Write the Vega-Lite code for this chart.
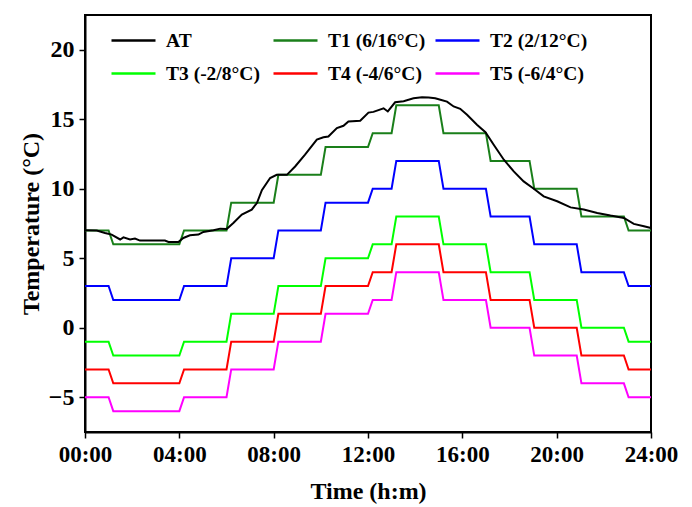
{
  "$schema": "https://vega.github.io/schema/vega-lite/v6.json",
  "width": 566,
  "height": 417,
  "autosize": "none",
  "padding": {"left": 85, "top": 15, "right": 41, "bottom": 75},
  "background": "white",
  "config": {
    "view": {"stroke": "black", "strokeWidth": 2},
    "font": "Liberation Serif",
    "axis": {
      "grid": false,
      "domainColor": "black",
      "domainWidth": 2,
      "tickColor": "black",
      "tickWidth": 1.5,
      "tickSize": 6,
      "labelFont": "Liberation Serif",
      "labelFontWeight": "bold",
      "labelColor": "black",
      "titleFont": "Liberation Serif",
      "titleFontWeight": "bold",
      "titleColor": "black"
    }
  },
  "datasets": {
    "steps": [
      {"t": 0, "T1": 7, "T2": 3, "T3": -1, "T4": -3, "T5": -5},
      {"t": 1.0, "T1": 7, "T2": 3, "T3": -1, "T4": -3, "T5": -5},
      {"t": 1.2, "T1": 6, "T2": 2, "T3": -2, "T4": -4, "T5": -6},
      {"t": 4.0, "T1": 6, "T2": 2, "T3": -2, "T4": -4, "T5": -6},
      {"t": 4.2, "T1": 7, "T2": 3, "T3": -1, "T4": -3, "T5": -5},
      {"t": 6.0, "T1": 7, "T2": 3, "T3": -1, "T4": -3, "T5": -5},
      {"t": 6.2, "T1": 9, "T2": 5, "T3": 1, "T4": -1, "T5": -3},
      {"t": 8.0, "T1": 9, "T2": 5, "T3": 1, "T4": -1, "T5": -3},
      {"t": 8.2, "T1": 11, "T2": 7, "T3": 3, "T4": 1, "T5": -1},
      {"t": 10.0, "T1": 11, "T2": 7, "T3": 3, "T4": 1, "T5": -1},
      {"t": 10.2, "T1": 13, "T2": 9, "T3": 5, "T4": 3, "T5": 1},
      {"t": 12.0, "T1": 13, "T2": 9, "T3": 5, "T4": 3, "T5": 1},
      {"t": 12.2, "T1": 14, "T2": 10, "T3": 6, "T4": 4, "T5": 2},
      {"t": 13.0, "T1": 14, "T2": 10, "T3": 6, "T4": 4, "T5": 2},
      {"t": 13.2, "T1": 16, "T2": 12, "T3": 8, "T4": 6, "T5": 4},
      {"t": 15.0, "T1": 16, "T2": 12, "T3": 8, "T4": 6, "T5": 4},
      {"t": 15.2, "T1": 14, "T2": 10, "T3": 6, "T4": 4, "T5": 2},
      {"t": 17.0, "T1": 14, "T2": 10, "T3": 6, "T4": 4, "T5": 2},
      {"t": 17.2, "T1": 12, "T2": 8, "T3": 4, "T4": 2, "T5": 0},
      {"t": 18.85, "T1": 12, "T2": 8, "T3": 4, "T4": 2, "T5": 0},
      {"t": 19.05, "T1": 10, "T2": 6, "T3": 2, "T4": 0, "T5": -2},
      {"t": 20.85, "T1": 10, "T2": 6, "T3": 2, "T4": 0, "T5": -2},
      {"t": 21.05, "T1": 8, "T2": 4, "T3": 0, "T4": -2, "T5": -4},
      {"t": 22.85, "T1": 8, "T2": 4, "T3": 0, "T4": -2, "T5": -4},
      {"t": 23.05, "T1": 7, "T2": 3, "T3": -1, "T4": -3, "T5": -5},
      {"t": 24.0, "T1": 7, "T2": 3, "T3": -1, "T4": -3, "T5": -5}
    ],
    "at": [
      {"t": 0.0, "AT": 7.02},
      {"t": 0.5, "AT": 7.0},
      {"t": 0.85, "AT": 6.82},
      {"t": 1.13, "AT": 6.7},
      {"t": 1.49, "AT": 6.35},
      {"t": 1.63, "AT": 6.5},
      {"t": 1.91, "AT": 6.35},
      {"t": 2.12, "AT": 6.42},
      {"t": 2.33, "AT": 6.27},
      {"t": 2.9, "AT": 6.27},
      {"t": 3.39, "AT": 6.27},
      {"t": 3.54, "AT": 6.17},
      {"t": 3.96, "AT": 6.17},
      {"t": 4.17, "AT": 6.46},
      {"t": 4.45, "AT": 6.65},
      {"t": 4.81, "AT": 6.7},
      {"t": 5.02, "AT": 6.89},
      {"t": 5.45, "AT": 7.01},
      {"t": 5.73, "AT": 7.13},
      {"t": 6.01, "AT": 7.1},
      {"t": 6.29, "AT": 7.54},
      {"t": 6.65, "AT": 8.14},
      {"t": 7.07, "AT": 8.5},
      {"t": 7.29, "AT": 8.97},
      {"t": 7.5, "AT": 9.9},
      {"t": 7.85, "AT": 10.77},
      {"t": 8.13, "AT": 11.0},
      {"t": 8.56, "AT": 11.0},
      {"t": 8.91, "AT": 11.6},
      {"t": 9.33, "AT": 12.45},
      {"t": 9.83, "AT": 13.53},
      {"t": 10.11, "AT": 13.7},
      {"t": 10.32, "AT": 13.76},
      {"t": 10.68, "AT": 14.36},
      {"t": 10.96, "AT": 14.53},
      {"t": 11.17, "AT": 14.84},
      {"t": 11.67, "AT": 14.89},
      {"t": 12.02, "AT": 15.48},
      {"t": 12.23, "AT": 15.53},
      {"t": 12.66, "AT": 15.79},
      {"t": 12.84, "AT": 15.56},
      {"t": 13.15, "AT": 16.22},
      {"t": 13.51, "AT": 16.3},
      {"t": 13.93, "AT": 16.51},
      {"t": 14.29, "AT": 16.58},
      {"t": 14.57, "AT": 16.56},
      {"t": 14.85, "AT": 16.51},
      {"t": 15.07, "AT": 16.4},
      {"t": 15.35, "AT": 16.27},
      {"t": 15.63, "AT": 15.92},
      {"t": 15.91, "AT": 15.75},
      {"t": 16.2, "AT": 15.32},
      {"t": 16.62, "AT": 14.6},
      {"t": 16.98, "AT": 14.07},
      {"t": 17.33, "AT": 13.17},
      {"t": 17.76, "AT": 12.09},
      {"t": 18.18, "AT": 11.25},
      {"t": 18.6, "AT": 10.53},
      {"t": 19.03, "AT": 10.0},
      {"t": 19.45, "AT": 9.45},
      {"t": 20.02, "AT": 9.1},
      {"t": 20.59, "AT": 8.66},
      {"t": 21.15, "AT": 8.5},
      {"t": 21.72, "AT": 8.26},
      {"t": 22.28, "AT": 8.07},
      {"t": 22.85, "AT": 7.9},
      {"t": 23.27, "AT": 7.47},
      {"t": 23.7, "AT": 7.3},
      {"t": 24.0, "AT": 7.18}
    ]
  },
  "encoding": {
    "x": {
      "field": "t",
      "type": "quantitative",
      "scale": {"domain": [0, 24], "nice": false, "zero": false},
      "axis": {
        "title": "Time (h:m)",
        "values": [0, 4, 8, 12, 16, 20, 24],
        "labelExpr": "(datum.value < 10 ? '0' : '') + datum.value + ':00'",
        "labelFontSize": 23,
        "titleFontSize": 24,
        "labelPadding": 5,
        "titlePadding": 13,
        "labelFlush": false
      }
    },
    "y": {
      "field": "value",
      "type": "quantitative",
      "scale": {"domain": [-7.5, 22.5], "nice": false, "zero": false},
      "axis": {
        "title": "Temperature (°C)",
        "values": [-5, 0, 5, 10, 15, 20],
        "labelFontSize": 24,
        "titleFontSize": 24,
        "labelPadding": 5,
        "titlePadding": 5,
        "labelFlush": false
      }
    },
    "color": {
      "field": "series",
      "type": "nominal",
      "scale": {
        "domain": ["AT", "T1", "T2", "T3", "T4", "T5"],
        "range": ["#000000", "#1a7f1a", "#0000ff", "#00ff00", "#ff0000", "#ff00ff"]
      },
      "legend": {
        "title": null,
        "orient": "none",
        "legendX": 25,
        "legendY": 2,
        "direction": "horizontal",
        "columns": 3,
        "gridAlign": "all",
        "symbolType": "stroke",
        "symbolSize": 1936,
        "symbolStrokeWidth": 2.5,
        "labelFont": "Liberation Serif",
        "labelFontWeight": "bold",
        "labelFontSize": 19.5,
        "labelColor": "black",
        "labelOffset": 9,
        "columnPadding": 4,
        "rowPadding": -16,
        "labelExpr": "datum.label == 'T1' ? 'T1 (6/16°C)' : datum.label == 'T2' ? 'T2 (2/12°C)' : datum.label == 'T3' ? 'T3 (-2/8°C)' : datum.label == 'T4' ? 'T4 (-4/6°C)' : datum.label == 'T5' ? 'T5 (-6/4°C)' : datum.label"
      }
    }
  },
  "layer": [
    {
      "data": {"name": "steps"},
      "transform": [{"fold": ["T1", "T2", "T3", "T4", "T5"], "as": ["series", "value"]}],
      "mark": {"type": "line", "strokeWidth": 2}
    },
    {
      "data": {"name": "at"},
      "transform": [{"fold": ["AT"], "as": ["series", "value"]}],
      "mark": {"type": "line", "strokeWidth": 2}
    }
  ]
}
